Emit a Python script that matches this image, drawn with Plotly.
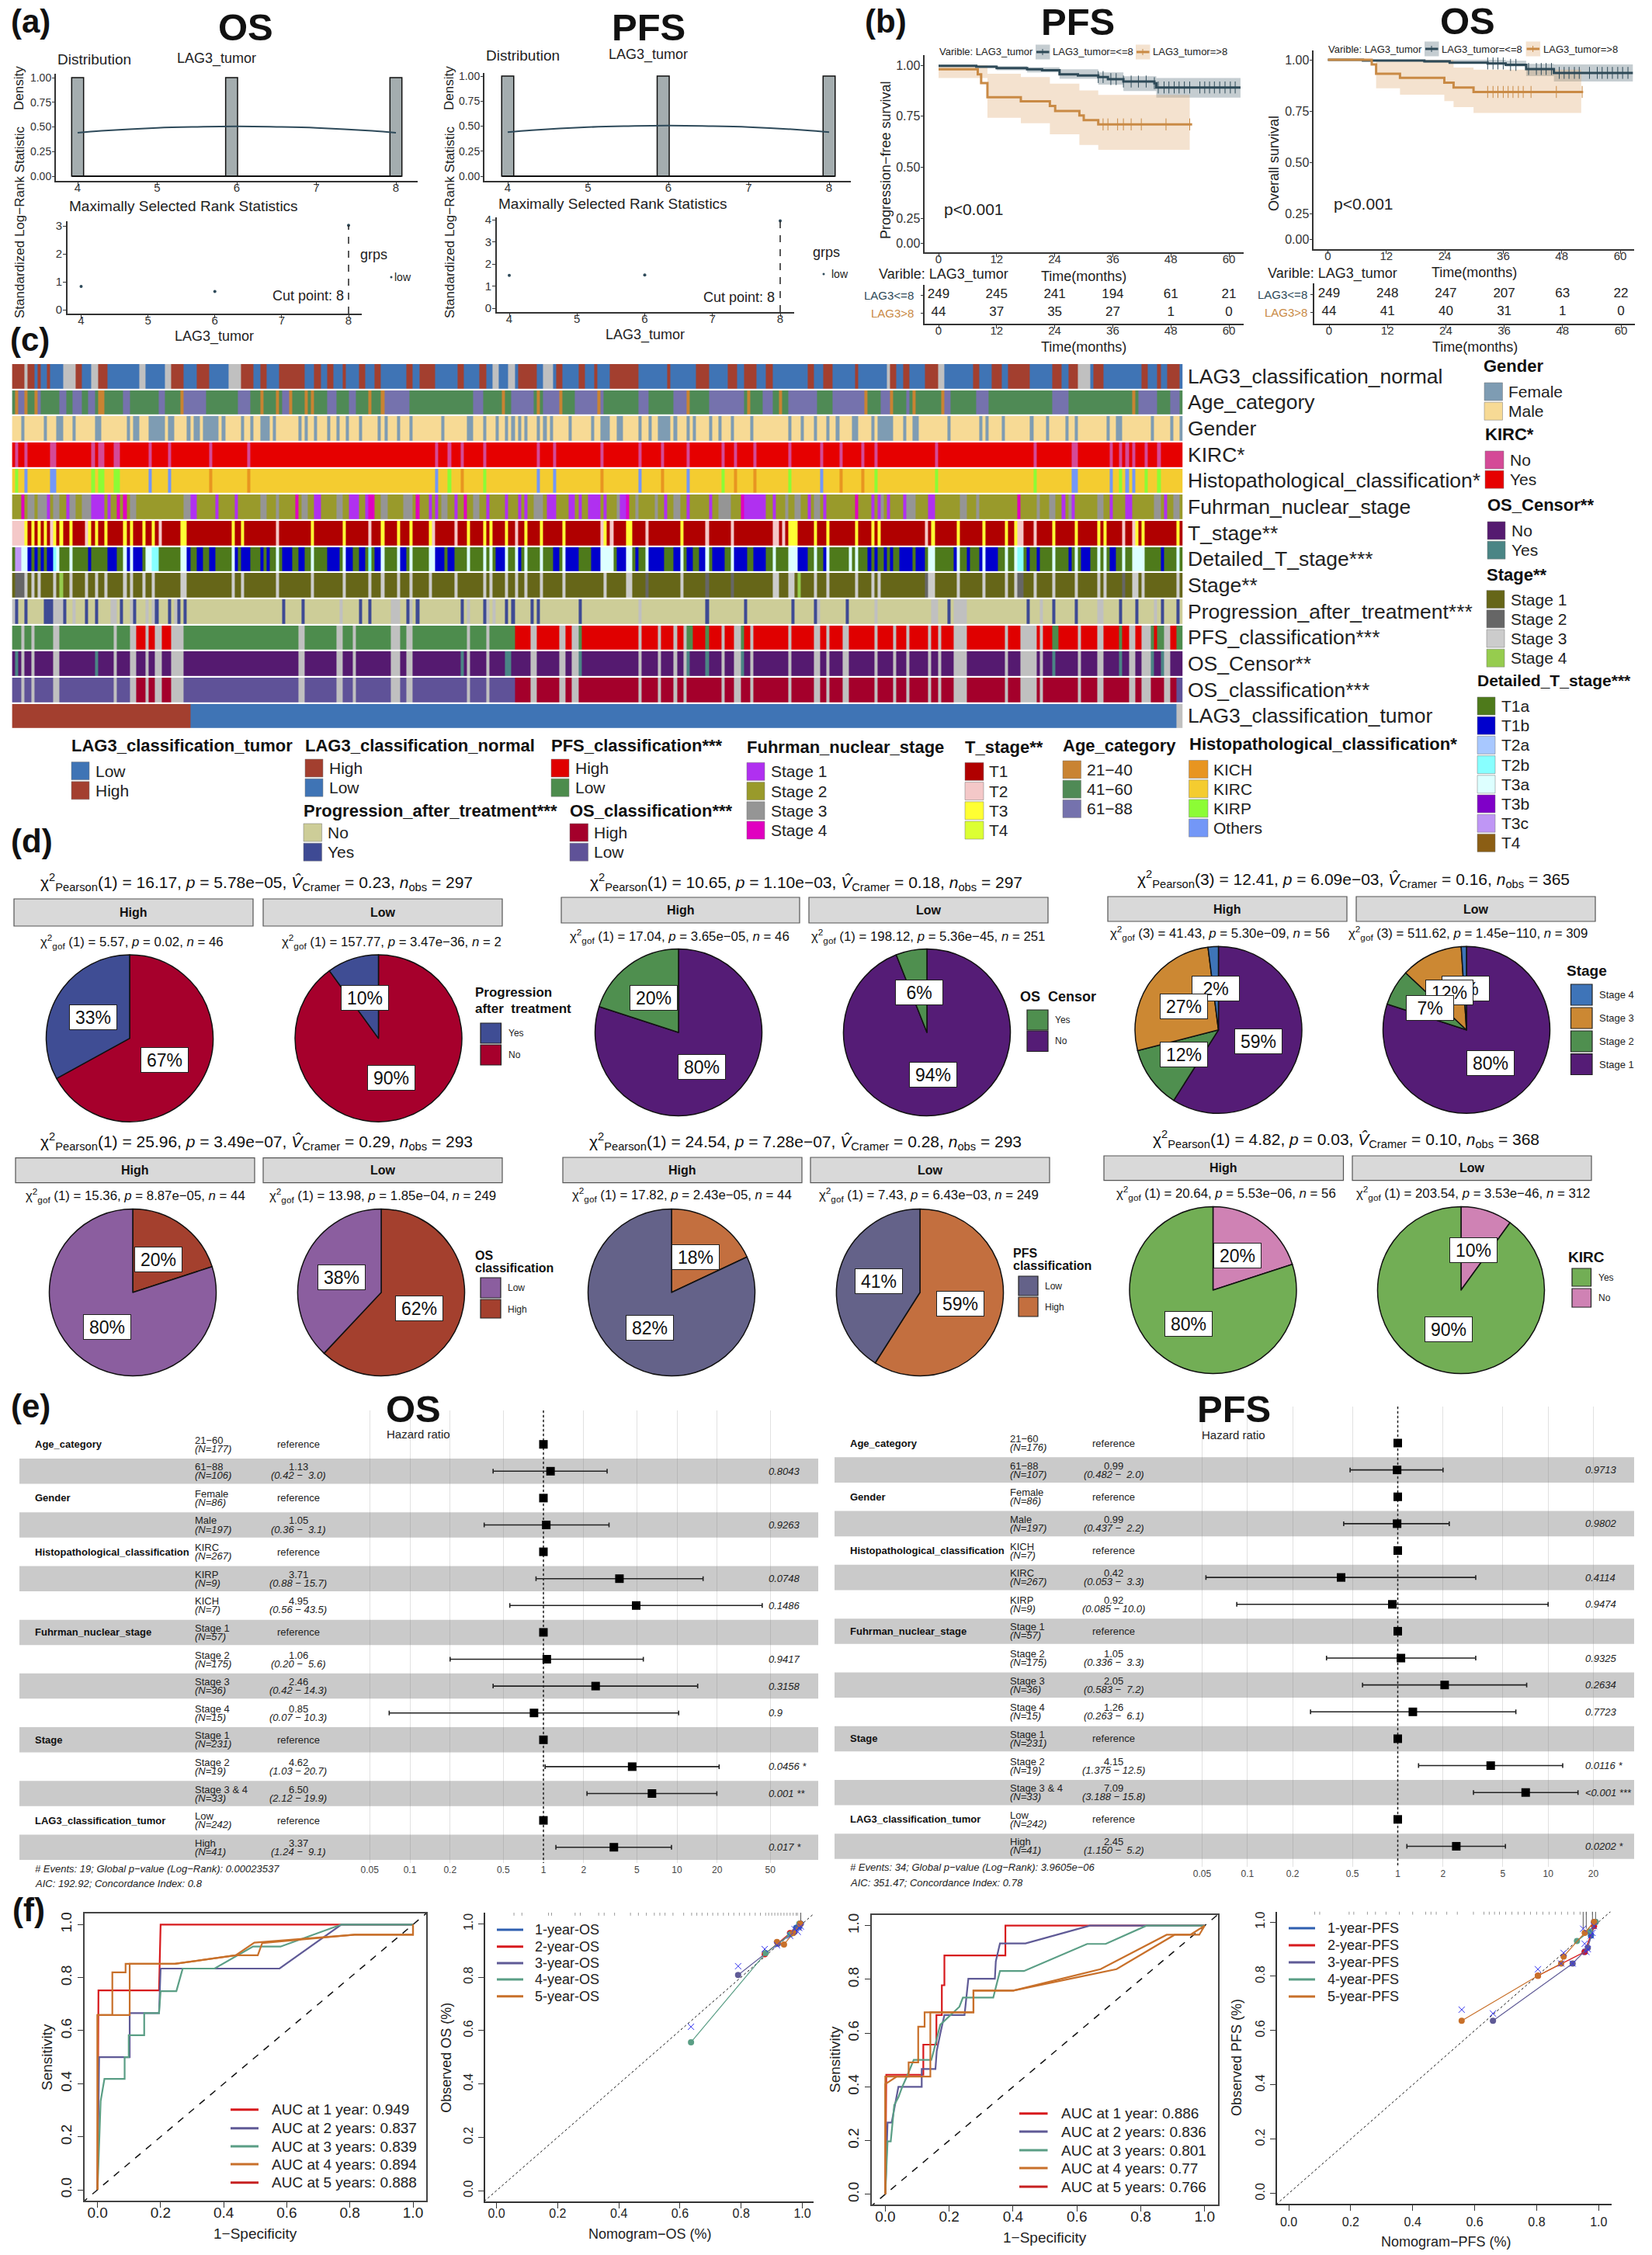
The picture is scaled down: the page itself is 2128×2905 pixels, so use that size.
import plotly.graph_objects as go

W, H = 2128, 2905
FONT = "Liberation Sans"
annots, shapes, traces, axes_layout = [], [], [], {}
_n = [0]

def T(x, y, s, size=15, color="#222", anchor="center", bold=False, angle=0, italic=False, **kw):
    if bold:
        s = f"<b>{s}</b>"
    if italic:
        s = f"<i>{s}</i>"
    if anchor == "left":
        x -= 2
    annots.append(dict(x=x / W, y=1 - y / H, xref="paper", yref="paper", text=s, showarrow=False,
                       xanchor=anchor, yanchor="middle", textangle=angle,
                       font=dict(size=size, color=color, family=FONT), **kw))

def R(x0, y0, x1, y1, fill, line="rgba(0,0,0,0)", lw=1):
    shapes.append(dict(type="rect", xref="paper", yref="paper", x0=x0 / W, x1=x1 / W, y0=1 - y0 / H, y1=1 - y1 / H,
                       fillcolor=fill, line=dict(color=line, width=lw), layer="below"))

def L(x0, y0, x1, y1, color, lw=2):
    shapes.append(dict(type="line", xref="paper", yref="paper", x0=x0 / W, x1=x1 / W, y0=1 - y0 / H, y1=1 - y1 / H,
                       line=dict(color=color, width=lw), layer="above"))

def AX(l, r, t, b, xr, yr, xo=None, yo=None):
    _n[0] += 1
    n = _n[0]
    base = dict(showgrid=False, zeroline=False, showline=True, linecolor="#333", linewidth=2, ticks="outside", automargin=False,
                ticklen=4, tickcolor="#333", tickwidth=1, tickfont=dict(size=15, color="#333", family=FONT))
    xa = dict(base, domain=[l / W, r / W], range=xr, anchor=f"y{n}", ticklabelstandoff=-10)
    ya = dict(base, domain=[1 - b / H, 1 - t / H], range=yr, anchor=f"x{n}", ticklabelstandoff=-2)
    xa.update(xo or {})
    ya.update(yo or {})
    axes_layout[f"xaxis{n}"] = xa
    axes_layout[f"yaxis{n}"] = ya
    return f"x{n}", f"y{n}"

def add(tr):
    traces.append(tr)

# ------------------------------------------------------------------ panel (a)
dist_x = [4, 5.935, 8]
dist_y = [1, 1, 1]
dens_os_x = [4, 4.3, 5, 5.5, 6, 6.5, 7, 7.7, 8]
dens_os_y = [0.44, 0.46, 0.49, 0.5, 0.505, 0.5, 0.49, 0.46, 0.44]
rank_x = [4, 6, 8]
rank_os = [0.83, 0.65, 3.02]
rank_pfs = [1.48, 1.5, 3.95]
TF14 = dict(size=14, color="#333", family=FONT)

def dist_panel(l, r, t, b, x4, x8, y1, y0, bar_x):
    u = (x8 - x4) / 4
    v = y0 - y1
    xa, ya = AX(l, r, t, b, [4 - (x4 - l) / u, 8 + (r - x8) / u], [-(b - y0) / v, 1 + (y1 - t) / v],
                dict(tickvals=[4, 5, 6, 7, 8]), dict(tickvals=[0, .25, .5, .75, 1], ticktext=["0.00", "0.25", "0.50", "0.75", "1.00"], tickfont=TF14, ticklen=3))
    add(go.Bar(x=bar_x, y=dist_y, width=0.15, marker=dict(color="#a4adaf", line=dict(color="#111", width=1.5)), xaxis=xa, yaxis=ya))
    add(go.Scatter(x=[3.93, 8.07], y=[0, 0], mode="lines", line=dict(color="#111", width=2), xaxis=xa, yaxis=ya))
    add(go.Scatter(x=dens_os_x, y=dens_os_y, mode="lines", line=dict(color="#2e4a5a", width=2, shape="spline"), xaxis=xa, yaxis=ya))

def rank_panel(l, r, t, b, x4, x8, y0, ytop, top, vals, tv):
    u = (x8 - x4) / 4
    v = (y0 - ytop) / top
    xa, ya = AX(l, r, t, b, [4 - (x4 - l) / u, 8 + (r - x8) / u], [-(b - y0) / v, top + (ytop - t) / v],
                dict(tickvals=[4, 5, 6, 7, 8]), dict(tickvals=tv))
    add(go.Scatter(x=rank_x, y=vals, mode="markers", marker=dict(size=4, color="#2e4a5a"), xaxis=xa, yaxis=ya))
    add(go.Scatter(x=[8, 8], y=[-(b - y0) / v, max(vals)], mode="lines", line=dict(color="#222", width=1.5, dash="dash"), xaxis=xa, yaxis=ya))

dist_panel(72, 538, 95, 233, 100, 510, 100, 227, dist_x)
dist_panel(624, 1096, 94, 233, 654, 1068, 98, 227, [4, 5.935, 8])
rank_panel(87, 466, 285, 404, 104.5, 449, 399, 291, 3, rank_os, [0, 1, 2, 3])
rank_panel(640, 1023, 280, 402, 656, 1005, 397, 283, 4, rank_pfs, [0, 1, 2, 3, 4])

T(39, 28, "(a)", 42, "#111", bold=True)
T(316, 35, "OS", 49, "#111", bold=True)
T(835, 35, "PFS", 49, "#111", bold=True)
for cx, dx, lx, mx, my, ax, ay, gx, gy, cy, cut, lox, loy, ptx, dy in [
    (121, 25, 279, 236, 266, 276, 434, 481, 328, 381, 445, 519, 357, 504, 76),
    (673, 579, 835, 790, 263, 831, 432, 1064, 325, 383, 1000, 1082, 353, 1061, 72)]:
    T(cx, dy, "Distribution", 19)
    T(lx, dy - 1, "LAG3_tumor", 18)
    T(mx, my, "Maximally Selected Rank Statistics", 19)
    T(ax, ay, "LAG3_tumor", 18)
    T(gx, gy, "grps", 18)
    T(lox, loy, "low", 14)
    T(cut, cy, "Cut point: 8", 18, anchor="right")
    T(dx, 114, "Density", 17, angle=-90)
    T(dx, 286, "Standardized Log−Rank Statistic", 17, angle=-90)
    shapes.append(dict(type="circle", xref="paper", yref="paper", x0=(ptx - 1.5) / W, x1=(ptx + 1.5) / W,
                       y0=1 - (loy + 1.5) / H, y1=1 - (loy - 1.5) / H, fillcolor="#2e4a5a", line=dict(width=0)))

# ------------------------------------------------------------------ panel (b)
DARK, ORNG = "#2e4a58", "#c98a45"
DARKF, ORNGF = "rgba(46,74,88,0.28)", "rgba(222,165,105,0.32)"

pfs_low_t = [0, 5.1, 7.8, 12, 18.3, 21.4, 25, 28.8, 33, 35, 38.2, 44.6, 45, 62.4]
pfs_low_s = [.9975, .9975, .992, .986, .98, .975, .955, .95, .942, .932, .92, .912, .891, .891]
pfs_low_rt = [0, 12, 18.3, 25, 33, 38.2, 45, 62.4]
pfs_low_lo = [.99, .975, .965, .933, .905, .874, .841, .841]
pfs_low_hi = [1, .995, .99, .98, .965, .946, .937, .937]
pfs_low_c = [33, 34, 35.6, 36.7, 38.2, 39.8, 41.3, 42.9, 44.6, 45.4, 46.6, 47.6, 48.7, 49.7, 50.8, 51.9, 54, 55, 56, 57, 58.1, 59.2, 60.3, 61.3]
pfs_hi_t = [0, 8.1, 8.8, 10.1, 17, 23, 24.1, 29.1, 30, 33, 52.4]
pfs_hi_s = [.98, .955, .913, .843, .823, .8, .776, .754, .731, .71, .71]
pfs_hi_rt = [0, 10.1, 17, 23, 29.1, 33, 51.9]
pfs_hi_lo = [.937, .742, .716, .662, .609, .586, .586]
pfs_hi_hi = [1, .958, .942, .91, .876, .855, .855]
pfs_hi_c = [34, 35, 37, 38.2, 39.8, 41.9, 47, 51.9]

os_low_t = [0, 7.2, 19.8, 25, 32.8, 36.5, 40.7, 46.4, 62.6]
os_low_s = [1, .996, .992, .986, .982, .975, .955, .936, .936]
os_low_rt = [0, 19.8, 36.5, 40.7, 46.4, 62.6]
os_low_lo = [.995, .985, .967, .92, .894, .894]
os_low_hi = [1, 1, .995, .98, .977, .977]
os_low_c = [32.8, 33.9, 34.9, 36, 37.5, 38.6, 41.2, 42.8, 43.8, 44.8, 45.9, 47.5, 48.5, 49.5, 50.6, 51.6, 53.7, 55.3, 56.3, 57.4, 58.4, 59.5, 60.5, 61.6]
os_hi_t = [0, 9, 9.9, 14.8, 23.9, 25.8, 29.9, 52.4]
os_hi_s = [1, .977, .932, .912, .888, .865, .843, .843]
os_hi_rt = [0, 9.9, 14.8, 23.9, 25.8, 29.9, 52]
os_hi_lo = [1, .861, .83, .798, .769, .741, .741]
os_hi_hi = [1, 1, 1, 1, .962, .952, .952]
os_hi_c = [32.8, 33.9, 34.9, 36, 37, 38, 39.1, 40.1, 41.7, 46.9, 52.2]

def s_at(ts, ss, t):
    v = ss[0]
    for a, b in zip(ts, ss):
        if a <= t:
            v = b
    return v

def km(l, r, t, b, x0, x60, y1, u, zero_pos, curves):
    pm = (x60 - x0) / 60
    xa, ya = AX(l, r, t, b, [-(x0 - l) / pm, 60 + (r - x60) / pm], [1 - (b - y1) / u, 1 + (y1 - t) / u],
                dict(tickvals=[0, 12, 24, 36, 48, 60]),
                dict(tickvals=[zero_pos, .25, .5, .75, 1], ticktext=["0.00", "0.25", "0.50", "0.75", "1.00"], ticklen=3, ticklabelstandoff=-3, tickfont=dict(size=16, color="#333", family=FONT)))
    for ct, cs, rt, lo, hi, cen, col, fc in curves:
        add(go.Scatter(x=rt, y=lo, mode="lines", line=dict(width=0, shape="hv"), xaxis=xa, yaxis=ya))
        add(go.Scatter(x=rt, y=hi, mode="lines", line=dict(width=0, shape="hv"), fill="tonexty", fillcolor=fc, xaxis=xa, yaxis=ya))
    for ct, cs, rt, lo, hi, cen, col, fc in curves:
        add(go.Scatter(x=ct, y=cs, mode="lines", line=dict(color=col, width=3, shape="hv"), xaxis=xa, yaxis=ya))
        add(go.Scatter(x=cen, y=[s_at(ct, cs, c) for c in cen], mode="markers",
                       marker=dict(symbol="line-ns", size=11, line=dict(color=col, width=1)), xaxis=xa, yaxis=ya))

km(1190.5, 1602, 71, 325, 1209, 1583, 84, 263, 0.129, [
    (pfs_low_t, pfs_low_s, pfs_low_rt, pfs_low_lo, pfs_low_hi, pfs_low_c, DARK, DARKF),
    (pfs_hi_t, pfs_hi_s, pfs_hi_rt, pfs_hi_lo, pfs_hi_hi, pfs_hi_c, ORNG, ORNGF)])
km(1691.5, 2104.6, 65, 321, 1710.5, 2087, 77, 264, 0.125, [
    (os_low_t, os_low_s, os_low_rt, os_low_lo, os_low_hi, os_low_c, DARK, DARKF),
    (os_hi_t, os_hi_s, os_hi_rt, os_hi_lo, os_hi_hi, os_hi_c, ORNG, ORNGF)])

risk_t = [0, 12, 24, 36, 48, 60]
risk_pfs_low = [249, 245, 241, 194, 61, 21]
risk_pfs_high = [44, 37, 35, 27, 1, 0]
risk_os_low = [249, 248, 247, 207, 63, 22]
risk_os_high = [44, 41, 40, 31, 1, 0]

def risk(l, r, t, b, x0, x60, y_low, y_high, low, high):
    pm = (x60 - x0) / 60
    v = y_high - y_low
    xa, ya = AX(l, r, t, b, [-(x0 - l) / pm, 60 + (r - x60) / pm], [(b - y_low) / v, (t - y_low) / v],
                dict(tickvals=risk_t), dict(tickvals=[0, 1], showticklabels=False, ticklen=3))
    add(go.Scatter(x=risk_t, y=[0] * 6, text=[str(i) for i in low], mode="text", textfont=dict(size=17, color="#222", family=FONT), xaxis=xa, yaxis=ya))
    add(go.Scatter(x=risk_t, y=[1] * 6, text=[str(i) for i in high], mode="text", textfont=dict(size=17, color="#222", family=FONT), xaxis=xa, yaxis=ya))

risk(1190.5, 1602, 367, 417, 1209, 1583, 380, 403, risk_pfs_low, risk_pfs_high)
risk(1693, 2106, 365, 417, 1712, 2088, 379, 402, risk_os_low, risk_os_high)

T(1141, 28, "(b)", 42, "#111", bold=True)
T(1388.5, 28, "PFS", 49, "#111", bold=True)
T(1890, 27, "OS", 49, "#111", bold=True)
T(1141, 206, "Progression−free survival", 18, angle=-90)
T(1641, 211, "Overall survival", 18, angle=-90)
T(1254, 269, "p&lt;0.001", 21)
T(1756, 263, "p&lt;0.001", 21)
for y, vx, tx, x1, tx2, x2 in [(67, 1270, 1407.5, 1334, 1533, 1463), (63, 1771.5, 1909, 1835, 2036, 1965.6)]:
    T(vx, y, "Varible: LAG3_tumor", 13)
    R(x1, y - 9.5, x1 + 18.5, y + 9.5, DARKF)
    L(x1 + 1, y, x1 + 17.5, y, DARK, 3)
    L(x1 + 9, y - 4, x1 + 9, y + 4, DARK, 1)
    T(tx, y, "LAG3_tumor=&lt;=8", 13)
    R(x2, y - 9.5, x2 + 18.5, y + 9.5, ORNGF)
    L(x2 + 1, y, x2 + 17.5, y, ORNG, 3)
    L(x2 + 9, y - 4, x2 + 9, y + 4, ORNG, 1)
    T(tx2, y, "LAG3_tumor=&gt;8", 13)
T(1215, 353, "Varible: LAG3_tumor", 18)
T(1396, 356, "Time(months)", 18)
T(1396, 447, "Time(months)", 18)
T(1179, 380, "LAG3&lt;=8", 15, "#2e4a58", anchor="right")
T(1179, 403, "LAG3&gt;8", 15, ORNG, anchor="right")
T(1716, 352, "Varible: LAG3_tumor", 18)
T(1899, 351, "Time(months)", 18)
T(1900, 447, "Time(months)", 18)
T(1686, 379, "LAG3&lt;=8", 15, "#2e4a58", anchor="right")
T(1686, 402, "LAG3&gt;8", 15, ORNG, anchor="right")

# ------------------------------------------------------------------ panel (c)
N_SAMPLES = 368
row_labels = ["LAG3_classification_normal", "Age_category", "Gender", "KIRC*", "Histopathological_classification*",
              "Fuhrman_nuclear_stage", "T_stage**", "Detailed_T_stage***", "Stage**", "Progression_after_treatment***",
              "PFS_classification***", "OS_Censor**", "OS_classification***", "LAG3_classification_tumor"]
palette = {"NA": "#c0c0c0", "brown": "#a33f2f", "blue": "#3f74b5",
           "a1": "#c98332", "a2": "#4f8a55", "a3": "#7572ad",
           "female": "#7e9cb3", "male": "#f7da95",
           "kn": "#d44a97", "ky": "#e60000",
           "h1": "#e89520", "h2": "#f4cc30", "h3": "#8cfc35", "h4": "#7397f7",
           "f1": "#b030f0", "f2": "#999a2b", "f3": "#959595", "f4": "#e000c0",
           "t1": "#b00000", "t2": "#f4c8c8", "t3": "#ffff33", "t4": "#dcff33",
           "d1": "#4e7a1b", "d2": "#0000cd", "d3": "#a8c8ff", "d4": "#88ffff", "d5": "#ddffff", "d6": "#7f00c8", "d7": "#bf96f5", "d8": "#8b5e14",
           "s1": "#666618", "s2": "#666666", "s3": "#cccccc", "s4": "#96cc4e",
           "pn": "#cdcd98", "py": "#3e4a94",
           "ph": "#e00000", "pl": "#4d8c4d",
           "cn": "#551a70", "cy": "#4a8585",
           "oh": "#a4002b", "ol": "#5f5298"}
codes = {k: i for i, k in enumerate(palette)}

missing = [3, 6, [13, 15], 32, [37, 39], 42, [45, 47], [50, 51], [51, 54], [90, 92], [102, 104], 107, [119, 122], [124, 126], 143, [149, 150],
           [163, 165], [172, 174], [176, 178], 197, [203, 204], 208, 211, 223, [227, 229], 232, [244, 245], [252, 254], [256, 257], [261, 263],
           [271, 272], 277, 281, 288, 291, [296, 300], 312, [317, 322], 323, 335, [341, 343], [351, 353], [355, 358], [362, 364]]
early_high = [[39, 42], [43, 45], [47, 50], 51, [158, 368]]

row_base = ["blue", "a2", "male", "ky", "h2", "f2", "t1", "d1", "s1", "pn", "pl", "cn", "ol", "blue"]
row_runs = [
    [("brown", [[0, 4], [5, 7], [8, 9], [11, 12], [20, 22], [27, 30], [50, 54], [58, 62], [72, 76], [78, 80], [84, 92], [95, 97], [99, 101], [104, 105], [109, 111], [114, 116], [124, 126], [128, 133], [140, 142], [147, 149], [159, 165], [171, 173], [178, 180], [183, 184], [188, 197], [206, 207], [215, 219], [225, 228], [230, 234], [237, 239], [250, 252], [255, 258], [265, 266], [276, 278], [280, 282], [287, 291], [302, 304], [308, 311], [313, 320], [327, 330], [332, 335], [340, 343], [355, 357], [360, 361], [363, 367]]),
     ("NA", [[4, 5], [16, 20], [25, 27], [40, 42], [48, 50], [68, 72], [151, 153], [156, 158], [167, 170], [275, 276], [291, 293], [335, 339]])],
    [("a3", [[1, 4], [7, 9], [15, 17], [19, 22], [24, 26], [35, 37], [46, 48], [54, 61], [71, 75], [85, 87], [99, 102], [106, 108], [117, 125], [145, 148], [157, 164], [167, 172], [177, 186], [197, 200], [208, 212], [219, 230], [236, 239], [244, 253], [258, 265], [265, 268], [273, 276], [281, 282], [292, 295], [303, 307], [327, 332], [354, 360], [364, 367]]),
     ("a1", [1, 4, 7, [27, 29], 53, 78, [83, 84], 87, 92, 94, 112, 116, 154, 165, 172, 184, 212, 231, 241, 268, 276, 283, 292, 352])],
    [("female", [3, 10, [14, 16], 19, [26, 28], 36, [38, 40], [43, 48], [49, 51], 55, [57, 59], [60, 65], 66, 72, 75, [78, 81], 82, 90, 92, 95, 99, 102, 105, 109, 115, 117, 121, 125, [135, 136], 143, 144, [148, 149], 152, 155, 157, 159, 161, 165, 167, 169, 175, 182, [185, 188], [190, 192], [197, 198], 200, [203, 207], 208, 212, 214, 219, 222, 226, 232, 244, 248, 252, 256, 259, 264, [265, 266], 270, [272, 277], [280, 281], [283, 285], 294, 304, 306, 311, 320, 325, 331, 334, 344, [347, 349], 358, 364, 367])],
    [("kn", [[1, 2], [4, 5], [12, 14], [25, 26], [27, 29], [32, 34], 43, 49, 62, 74, 133, 137, 141, 148, 165, 170, 185, 197, 204, 212, 223, 227, 233, 244, 254, 260, 267, 271, 290, 321, [333, 335], 345, 348, 350, 352, 356, 360])],
    [("h3", [[1, 2], [25, 26], [27, 29], [32, 34], 137, 148, 223, 244, 271, 290, 321, 348, 356, 360]),
     ("h4", [[4, 5], [12, 14], 43, 49, 133, 165, 170, 197, 212, 254, [333, 335], 345, 350, 352]),
     ("h1", [62, 74, 141, 185, 204, 227, 233, 260, 267])],
    [("f3", [[5, 7], [8, 11], [13, 15], [18, 20], [22, 25], [37, 39], [54, 56], [78, 80], [83, 84], [91, 93], [102, 104], [116, 118], [123, 126], [135, 137], [145, 147], [164, 167], [190, 191], [196, 197], [202, 203], [208, 210], [222, 226], [243, 244], [246, 248], [252, 254], [272, 274], [281, 284], [298, 300], 303, 322, [326, 328], [332, 333], [341, 343], [359, 361], [365, 367]]),
     ("f1", [11, 17, [25, 29], 30, [56, 58], 64, 70, [95, 97], [106, 108], 108, 111, 131, 133, [139, 140], 149, 155, 159, 161, [168, 171], [175, 177], 178, 181, [182, 185], 186, [191, 193], 205, 212, 219, [230, 237], 239, [250, 251], [255, 256], 270, 272, 275, 280, [288, 290], 330, 333, 345, [350, 352], 362]),
     ("f4", [3, 33, 35, 89, [112, 114], 127, 142, 193, 229, 265, 316])],
    [("t2", [[0, 4], 12, 23, 46, 83, [112, 113], 132, 139, 158, 185, 188, 199, 218, 226, [239, 241], [242, 243], [287, 288], [316, 318], 321, 349, 352]),
     ("t3", [[4, 5], 6, 8, 10, 13, [15, 16], [18, 19], 24, 26, 29, 35, 37, [41, 42], [44, 45], [53, 55], 69, 72, 94, 104, 116, [121, 122], 125, [131, 132], 143, 148, 150, 155, 161, 166, 173, [186, 187], [193, 195], 210, [244, 247], 252, 256, 265, [270, 271], 272, 289, 297, 305, 312, 315, 327, 334, 341, 343, 353, 355, 366])],
    [("d2", [5, 7, [9, 10], [11, 13], [24, 25], [30, 33], [36, 37], [38, 41], [55, 56], [58, 60], [62, 64], [70, 71], [72, 75], 78, [80, 81], [85, 88], [90, 92], [99, 103], [104, 107], [109, 111], [114, 116], [122, 124], [133, 136], [137, 139], [148, 149], [152, 155], [159, 160], [170, 172], [174, 178], [182, 185], [190, 193], [196, 197], [200, 205], [208, 210], [212, 214], [216, 218], [220, 224], [227, 231], [233, 237], [246, 250], [255, 257], 269, [271, 272], 274, [276, 277], [279, 283], [284, 287], 296, [300, 301], 304, [306, 310], [319, 320], [322, 323], 332, [336, 339], [345, 347], [361, 362]]),
     ("d5", [[1, 5], [13, 15], 18, 35, 37, [42, 46], [53, 55], 69, 83, 94, 104, [112, 113], 116, 121, 125, [131, 133], 143, 148, 150, 155, 158, 161, 166, 173, [185, 189], [193, 195], 199, 210, 218, 226, 239, [244, 247], 252, 256, 263, 265, 288, 289, 297, 305, 312, 315, [316, 318], 327, 334, 341, 343, 349, 352, [353, 356], 366]),
     ("d4", [13, [44, 46], [112, 113], [316, 318]]),
     ("d7", [[1, 3]])],
    [("s3", [4, 6, 8, 13, 18, 23, 26, 29, 35, 37, [41, 42], [44, 45], [53, 55], 69, 72, 83, 94, 104, [112, 113], 116, [121, 122], 125, [131, 132], 139, 148, 150, 155, 158, 161, 166, 173, [186, 187], [193, 195], 210, [239, 241], [244, 246], 252, 256, 265, [270, 271], 272, [288, 290], 297, 305, 312, 315, 321, 327, 334, 341, 343, 352, 353, 355, 366]),
     ("s2", [[1, 4], 199, 218, 226, 287, [316, 318], 349]),
     ("s4", [[15, 16], 247])],
    [("NA", [0, [13, 16], 19, [31, 33], 37, 42, 44, 51, [103, 104], [119, 122], 125, 143, 149, 151, 155, 197, [252, 254], [271, 272], [289, 291], [296, 300], 323, [341, 343], [359, 360]]),
     ("py", [1, 4, [10, 13], 16, 23, 26, 34, 38, 45, 49, 52, [54, 55], 85, 91, 109, 112, 124, 127, 141, 148, 155, 157, [163, 164], 165, 178, 218, 230, 245, 252, [262, 263], 294, 319, 327, 334, 348, 353, 361, 366])],
    [("ph", early_high), ("pl", [178, [212, 214], 218, 229, [327, 329], [348, 349], 358, [360, 362], [366, 368]]), ("NA", missing)],
    [("cy", [[1, 2], 26, 37, [90, 92], 141, [155, 157], 178, 212, 218, 229, 252, [318, 319], 327, [348, 349], 358, 361]), ("NA", missing)],
    [("oh", early_high), ("ol", [[366, 368]]), ("NA", missing)],
    [("brown", [[0, 56]]), ("NA", [[366, 368]])],
]

z = []
for base, runs in zip(row_base, row_runs):
    row = [codes[base] + 0.5] * N_SAMPLES
    for name, items in runs:
        for it in items:
            a, b = (it[0], it[1]) if isinstance(it, list) else (it, it + 1)
            for i in range(a, min(b, N_SAMPLES)):
                row[i] = codes[name] + 0.5
    z.append(row)

nc = len(palette)
cs = []
for i, c in enumerate(palette.values()):
    cs += [[i / nc, c], [(i + 1) / nc, c]]
xa, ya = AX(15.4, 1523.6, 468, 939.4, [-0.5, N_SAMPLES - 0.5], [13.5, -0.5],
            dict(visible=False), dict(visible=False))
add(go.Heatmap(z=z, colorscale=cs, zmin=0, zmax=nc, showscale=False, ygap=2.2, hoverinfo="skip", xaxis=xa, yaxis=ya))
for i, lab in enumerate(row_labels):
    T(1530, 484.7 + 33.67 * i, lab, 26.5, "#222", anchor="left")
T(38.6, 437, "(c)", 42, "#111", bold=True)

def legend(title, tx, ty, sx0, sx1, first, h, pitch, lx, items, tsize=22, lsize=21):
    T(tx, ty, title, tsize, "#111", anchor="left", bold=True)
    for i, (lab, col) in enumerate(items):
        y = first + pitch * i
        R(sx0, y, sx1, y + h, col, "#777", 0.5)
        T(lx, y + h / 2, lab, lsize, "#222", anchor="left")

p = palette
legend("Gender", 1911, 472, 1912, 1935.5, 493, 23, 25.2, 1943, [("Female", p["female"]), ("Male", p["male"])])
legend("KIRC*", 1913, 560, 1913, 1937, 581, 23, 25.2, 1945, [("No", p["kn"]), ("Yes", p["ky"])])
legend("OS_Censor**", 1916, 650, 1916, 1939, 672, 23, 25.2, 1946.6, [("No", p["cn"]), ("Yes", p["cy"])])
legend("Stage**", 1915, 740, 1915, 1938, 760.6, 23, 25.2, 1946, [("Stage 1", p["s1"]), ("Stage 2", p["s2"]), ("Stage 3", p["s3"]), ("Stage 4", p["s4"])])
legend("Detailed_T_stage***", 1903, 877, 1903, 1926, 898, 23, 25.2, 1934,
       [("T1a", p["d1"]), ("T1b", p["d2"]), ("T2a", p["d3"]), ("T2b", p["d4"]), ("T3a", p["d5"]), ("T3b", p["d6"]), ("T3c", p["d7"]), ("T4", p["d8"])], tsize=21)
legend("LAG3_classification_tumor", 92, 960.5, 92, 115, 981.6, 23, 25.2, 123, [("Low", p["blue"]), ("High", p["brown"])])
legend("LAG3_classification_normal", 393, 961, 393, 416, 978, 23, 25.2, 424, [("High", p["brown"]), ("Low", p["blue"])])
legend("PFS_classification***", 710, 961, 710, 733, 978, 23, 25.2, 741, [("High", p["ph"]), ("Low", p["pl"])])
legend("Fuhrman_nuclear_stage", 962, 962, 962, 985, 982.4, 23, 25.2, 993, [("Stage 1", p["f1"]), ("Stage 2", p["f2"]), ("Stage 3", p["f3"]), ("Stage 4", p["f4"])])
legend("Progression_after_treatment***", 391, 1044, 391, 414.6, 1061, 23, 25.2, 421.6, [("No", p["pn"]), ("Yes", p["py"])])
legend("OS_classification***", 734, 1044, 734, 757.6, 1061, 23, 25.2, 765, [("High", p["oh"]), ("Low", p["ol"])])
legend("T_stage**", 1243, 962, 1243, 1267, 982.4, 23, 25.2, 1274, [("T1", p["t1"]), ("T2", p["t2"]), ("T3", p["t3"]), ("T4", p["t4"])])
legend("Age_category", 1369, 960, 1369, 1392.5, 980, 23, 25.2, 1400, [("21−40", p["a1"]), ("41−60", p["a2"]), ("61−88", p["a3"])])
legend("Histopathological_classification*", 1531.5, 959, 1531.5, 1556, 979.5, 23, 25.2, 1563, [("KICH", p["h1"]), ("KIRC", p["h2"]), ("KIRP", p["h3"]), ("Others", p["h4"])])

# ------------------------------------------------------------------ panel (d)
T(41, 1083, "(d)", 42, "#111", bold=True)
C_YES, C_NO = "#3f4d94", "#a6002c"
C_G, C_P = "#4f8f4f", "#551c76"
C_LOW, C_HIGH = "#8b5e9f", "#a4402e"
C_LOW2, C_HIGH2 = "#646289", "#c36f3f"
C_S3, C_S4 = "#cc8833", "#3e74b8"
C_KY, C_KN = "#72ae55", "#cf82b4"

def pie(cx, cy, labels, vals, cols, boxes):
    r = 107.5
    add(go.Pie(labels=labels, values=vals, sort=False, direction="clockwise", rotation=0, textinfo="none", hoverinfo="skip",
               marker=dict(colors=cols, line=dict(color="#111", width=1.5)),
               domain=dict(x=[(cx - r) / W, (cx + r) / W], y=[1 - (cy + r) / H, 1 - (cy - r) / H])))
    for x, y, s in boxes:
        T(x, y, s, 23, "#111", bgcolor="white", bordercolor="#222", borderwidth=1, borderpad=2, width=56, height=27)

pie(167, 1337.6, ["No", "Yes"], [67, 33], [C_NO, C_YES], [(120, 1310, "33%"), (212, 1366, "67%")])
pie(487.5, 1337.6, ["No", "Yes"], [90, 10], [C_NO, C_YES], [(470, 1286, "10%"), (504, 1388, "90%")])
pie(874, 1330, ["No", "Yes"], [80, 20], [C_P, C_G], [(842, 1286, "20%"), (904, 1374, "80%")])
pie(1194, 1330, ["No", "Yes"], [94, 6], [C_P, C_G], [(1184, 1278, "6%"), (1202, 1384, "94%")])
pie(171, 1665, ["High", "Low"], [20, 80], [C_HIGH, C_LOW], [(204, 1622.5, "20%"), (138, 1709, "80%")])
pie(491, 1665, ["High", "Low"], [62, 38], [C_HIGH, C_LOW], [(440, 1645.5, "38%"), (540, 1685.4, "62%")])
pie(865, 1665, ["High", "Low"], [18, 82], [C_HIGH2, C_LOW2], [(896, 1619, "18%"), (837, 1710, "82%")])
pie(1185, 1665, ["High", "Low"], [59, 41], [C_HIGH2, C_LOW2], [(1132, 1650, "41%"), (1237, 1679, "59%")])
pie(1569.5, 1326.8, ["Stage 1", "Stage 2", "Stage 3", "Stage 4"], [59, 12, 27, 2], [C_P, C_G, C_S3, C_S4],
    [(1566, 1273.5, "2%"), (1525, 1296, "27%"), (1525, 1358, "12%"), (1621, 1341.5, "59%")])
pie(1889, 1326.8, ["Stage 1", "Stage 2", "Stage 3", "Stage 4"], [80, 7, 12, 1], [C_P, C_G, C_S3, C_S4],
    [(1887.5, 1273.5, "1%"), (1866.6, 1278, "12%"), (1842.4, 1298.6, "7%"), (1920, 1370, "80%")])
pie(1562.5, 1662, ["No", "Yes"], [20, 80], [C_KN, C_KY], [(1593.6, 1617.8, "20%"), (1531.4, 1705.4, "80%")])
pie(1882, 1662, ["No", "Yes"], [10, 90], [C_KN, C_KY], [(1898, 1610.4, "10%"), (1865.6, 1712.7, "90%")])

def pearson(df, chi, pv, v, n):
    return (f"χ<sup>2</sup><sub>Pearson</sub>({df}) = {chi}, <i>p</i> = {pv}, <i>V\u0302</i><sub>Cramer</sub> = {v}, "
            f"<i>n</i><sub>obs</sub> = {n}")

def gof(df, chi, pv, n):
    return f"χ<sup>2</sup><sub>gof</sub> ({df}) = {chi}, <i>p</i> = {pv}, <i>n</i> = {n}"

def facet(title, cx, ty, s1, s2, st, sb, g1, g2, gy):
    T(cx, ty, title, 21, "#111")
    for (a, b), lab in [(s1, "High"), (s2, "Low")]:
        R(a, st, b, sb, "#d9d9d9", "#555", 1.2)
        T((a + b) / 2, (st + sb) / 2, lab, 16, "#111", bold=True)
    T(g1[0], gy, g1[1], 16.8, "#111")
    T(g2[0], gy, g2[1], 16.8, "#111")

facet(pearson(1, "16.17", "5.78e−05", "0.23", 297), 330, 1137, (18, 326), (339, 647), 1158, 1193,
      (170, gof(1, "5.57", "0.02", 46)), (504, gof(1, "157.77", "3.47e−36", 2)), 1213)
facet(pearson(1, "10.65", "1.10e−03", "0.18", 297), 1038, 1137, (723, 1030), (1042, 1350), 1156, 1189,
      (875, gof(1, "17.04", "3.65e−05", 46)), (1195, gof(1, "198.12", "5.36e−45", 251)), 1206)
facet(pearson(3, "12.41", "6.09e−03", "0.16", 365), 1743.5, 1133, (1427, 1735), (1747, 2055), 1155, 1187,
      (1571, gof(3, "41.43", "5.30e−09", 56)), (1891, gof(3, "511.62", "1.45e−110", 309)), 1202)
facet(pearson(1, "25.96", "3.49e−07", "0.29", 293), 330, 1471, (20, 328), (339, 647), 1491.6, 1523.7,
      (174, gof(1, "15.36", "8.87e−05", 44)), (493, gof(1, "13.98", "1.85e−04", 249)), 1540)
facet(pearson(1, "24.54", "7.28e−07", "0.28", 293), 1037, 1471, (725, 1033), (1044, 1352), 1491, 1523.7,
      (878, gof(1, "17.82", "2.43e−05", 44)), (1196, gof(1, "7.43", "6.43e−03", 249)), 1539)
facet(pearson(1, "4.82", "0.03", "0.10", 368), 1734, 1467.7, (1422, 1730.5), (1742, 2050), 1489, 1520.6,
      (1579, gof(1, "20.64", "5.53e−06", 56)), (1897.7, gof(1, "203.54", "3.53e−46", 312)), 1536.7)

def pie_legend(titles, tx, tys, sx0, sx1, items, tsize=17, lsize=12):
    for t, y in zip(titles, tys):
        T(tx, y, t, tsize, "#111", anchor="left", bold=True)
    for lab, col, y0, y1, ly in items:
        R(sx0, y0, sx1, y1, col, "#222", 1.2)
        T(sx1 + 9, ly, lab, lsize, "#222", anchor="left")

pie_legend(["Progression", "after  treatment"], 612, [1278, 1299], 619, 645.5, [("Yes", C_YES, 1318, 1344, 1331), ("No", C_NO, 1346, 1372, 1359)])
pie_legend(["OS  Censor"], 1314, [1284], 1323, 1350, [("Yes", C_G, 1301, 1327, 1314), ("No", C_P, 1328, 1354.5, 1341)], tsize=18)
pie_legend(["OS", "classification"], 612, [1617, 1633], 619, 645, [("Low", C_LOW, 1646, 1672, 1659), ("High", C_HIGH, 1674, 1698, 1687)], tsize=16)
pie_legend(["PFS", "classification"], 1305, [1614, 1630], 1312, 1337, [("Low", C_LOW2, 1644, 1669, 1657), ("High", C_HIGH2, 1671, 1696, 1684)], tsize=16)
pie_legend(["Stage"], 2018, [1250], 2023.5, 2051, [("Stage 4", C_S4, 1268, 1295, 1281), ("Stage 3", C_S3, 1298, 1325, 1311),
                                                   ("Stage 2", C_G, 1328, 1355, 1341), ("Stage 1", C_P, 1357.6, 1384.5, 1371)], tsize=19, lsize=13)
pie_legend(["KIRC"], 2020, [1619], 2025, 2049.5, [("Yes", C_KY, 1634, 1657, 1645.5), ("No", C_KN, 1660, 1684, 1671.5)], tsize=19, lsize=12)

# ------------------------------------------------------------------ panel (e)
f_vars = ["Age_category", "", "Gender", "", "Histopathological_classification", "", "", "Fuhrman_nuclear_stage", "", "", "", "Stage", "", "", "LAG3_classification_tumor", ""]
os_levels = ["21−60", "61−88", "Female", "Male", "KIRC", "KIRP", "KICH", "Stage 1", "Stage 2", "Stage 3", "Stage 4", "Stage 1", "Stage 2", "Stage 3 & 4", "Low", "High"]
os_n = [177, 106, 86, 197, 267, 9, 7, 57, 175, 36, 15, 231, 19, 33, 242, 41]
os_hr = [1, 1.13, 1, 1.05, 1, 3.71, 4.95, 1, 1.06, 2.46, 0.85, 1, 4.62, 6.50, 1, 3.37]
os_lo = [None, 0.42, None, 0.36, None, 0.88, 0.56, None, 0.20, 0.42, 0.07, None, 1.03, 2.12, None, 1.24]
os_hi = [None, 3.0, None, 3.1, None, 15.7, 43.5, None, 5.6, 14.3, 10.3, None, 20.7, 19.9, None, 9.1]
os_hrt = ["", "1.13", "", "1.05", "", "3.71", "4.95", "", "1.06", "2.46", "0.85", "", "4.62", "6.50", "", "3.37"]
os_cit = ["", "(0.42 −  3.0)", "", "(0.36 −  3.1)", "", "(0.88 − 15.7)", "(0.56 − 43.5)", "", "(0.20 −  5.6)", "(0.42 − 14.3)", "(0.07 − 10.3)", "", "(1.03 − 20.7)", "(2.12 − 19.9)", "", "(1.24 −  9.1)"]
os_p = ["", "0.8043", "", "0.9263", "", "0.0748", "0.1486", "", "0.9417", "0.3158", "0.9", "", "0.0456 *", "0.001 **", "", "0.017 *"]

pfs_levels = ["21−60", "61−88", "Female", "Male", "KICH", "KIRC", "KIRP", "Stage 1", "Stage 2", "Stage 3", "Stage 4", "Stage 1", "Stage 2", "Stage 3 & 4", "Low", "High"]
pfs_n = [176, 107, 86, 197, 7, 267, 9, 57, 175, 36, 15, 231, 19, 33, 242, 41]
pfs_hr = [1, 0.99, 1, 0.99, 1, 0.42, 0.92, 1, 1.05, 2.05, 1.26, 1, 4.15, 7.09, 1, 2.45]
pfs_lo = [None, 0.482, None, 0.437, None, 0.053, 0.085, None, 0.336, 0.583, 0.263, None, 1.375, 3.188, None, 1.150]
pfs_hi = [None, 2.0, None, 2.2, None, 3.3, 10.0, None, 3.3, 7.2, 6.1, None, 12.5, 15.8, None, 5.2]
pfs_hrt = ["", "0.99", "", "0.99", "", "0.42", "0.92", "", "1.05", "2.05", "1.26", "", "4.15", "7.09", "", "2.45"]
pfs_cit = ["", "(0.482 −  2.0)", "", "(0.437 −  2.2)", "", "(0.053 −  3.3)", "(0.085 − 10.0)", "", "(0.336 −  3.3)", "(0.583 −  7.2)", "(0.263 −  6.1)", "", "(1.375 − 12.5)", "(3.188 − 15.8)", "", "(1.150 −  5.2)"]
pfs_p = ["", "0.9713", "", "0.9802", "", "0.4114", "0.9474", "", "0.9325", "0.2634", "0.7723", "", "0.0116 *", "&lt;0.001 ***", "", "0.0202 *"]

def forest(bl, br, x1, dec, top, y0, pitch, bottom, tickv, levels, ns, hr, lo, hi, hrt, cit, pv, vx, lx, hx, px_, foot, fy1, fy2):
    for i in range(1, 16, 2):
        R(bl, y0 + pitch * (i - .47), br, y0 + pitch * (i + .47), "#cacaca")
    xa, ya = AX(bl, br, top, bottom, [(bl - x1) / dec, (br - x1) / dec], [(bottom - y0) / pitch, (top - y0) / pitch],
                dict(type="log", showline=False, ticks="", showgrid=True, gridcolor="rgba(120,120,120,0.22)", ticklabelstandoff=0,
                     tickvals=tickv, ticktext=[str(v) for v in tickv], tickfont=dict(size=12, color="#444", family=FONT)),
                dict(visible=False))
    ys = list(range(16))
    add(go.Scatter(x=[1, 1], y=[(top - y0) / pitch, (bottom - y0) / pitch], mode="lines",
                   line=dict(color="#222", width=1.5, dash="dot"), xaxis=xa, yaxis=ya))
    add(go.Scatter(x=hr, y=ys, mode="markers", marker=dict(symbol="square", size=11, color="#000"),
                   error_x=dict(type="data", symmetric=False,
                                array=[(h - m) if h else 0 for h, m in zip(hi, hr)],
                                arrayminus=[(m - l) if l else 0 for l, m in zip(lo, hr)],
                                thickness=1.6, width=3, color="#222"),
                   xaxis=xa, yaxis=ya))
    for i in range(16):
        y = y0 + pitch * i
        if f_vars[i]:
            T(vx, y, f_vars[i], 13, "#111", anchor="left", bold=True)
        T(lx, y - 5.5, levels[i], 13, "#222", anchor="left")
        T(lx, y + 5.5, f"(N={ns[i]})", 13, "#222", anchor="left", italic=True)
        if hrt[i]:
            T(hx, y - 5.5, hrt[i], 13, "#222")
            T(hx, y + 5.5, cit[i], 13, "#222", italic=True)
        else:
            T(hx, y, "reference", 13, "#222")
        if pv[i]:
            T(px_, y, pv[i], 13, "#222", anchor="left", italic=True)
    T(vx, fy1, foot[0], 13, "#222", anchor="left", italic=True)
    T(vx, fy2, foot[1], 13, "#222", anchor="left", italic=True)

forest(25, 1054, 700, 172, 1817, 1860.7, 34.6, 2400, [0.05, 0.1, 0.2, 0.5, 1, 2, 5, 10, 20, 50],
       os_levels, os_n, os_hr, os_lo, os_hi, os_hrt, os_cit, os_p, 45, 251, 384, 990,
       ["# Events: 19; Global p−value (Log−Rank): 0.00023537", "AIC: 192.92; Concordance Index: 0.8"], 2407.5, 2426)
forest(1075, 2105, 1800.5, 193.7, 1812, 1859, 34.63, 2405, [0.05, 0.1, 0.2, 0.5, 1, 2, 5, 10, 20],
       pfs_levels, pfs_n, pfs_hr, pfs_lo, pfs_hi, pfs_hrt, pfs_cit, pfs_p, 1095.4, 1301, 1434.7, 2042,
       ["# Events: 34; Global p−value (Log−Rank): 3.9605e−06", "AIC: 351.47; Concordance Index: 0.78"], 2405.8, 2425)
T(39, 1812, "(e)", 42, "#111", bold=True)
T(532, 1815, "OS", 49, "#111", bold=True)
T(1589, 1815, "PFS", 49, "#111", bold=True)
T(539, 1847, "Hazard ratio", 15, "#222")
T(1589, 1848, "Hazard ratio", 15, "#222")

# ------------------------------------------------------------------ panel (f)
C1, C2, C3, C4, C5 = "#d7191c", "#5f5a96", "#5a9e85", "#c8702a", "#c62020"
roc_os = [
    ([0, .003, .195, .2, 1], [0, .752, .752, 1, 1], C1),
    ([0, .005, .102, .102, .195, .2, .577, .773, 1], [0, .5, .5, .666, .666, .834, .834, 1, 1], C2),
    ([0, .003, .007, .01, .022, .086, .086, .099, .099, .148, .148, .195, .2, .25, .27, .371, .493, .58, .773, 1],
     [0, .086, .249, .335, .418, .418, .5, .5, .583, .583, .666, .666, .749, .749, .834, .834, .917, .917, 1, 1], C3),
    ([0, 0, .047, .047, .089, .089, .245, .438, .508, .522, .815, 1, 1], [0, .659, .659, .82, .82, .852, .852, .884, .884, .93, .962, .962, 1], C4),
    ([0, 0, .102, .102, .245, .438, .497, .815, 1, 1], [0, .659, .659, .852, .852, .884, .932, .962, .962, 1], "#c8702a"),
]
roc_pfs = [
    ([0, .003, .119, .119, .16, .16, .177, .177, .185, .185, .376, .376, 1], [0, .445, .445, .557, .557, .667, .667, .778, .778, .889, .889, 1, 1], C1),
    ([0, .003, .007, .02, .031, .041, .114, .114, .157, .161, .172, .185, .248, .26, .343, .346, .359, .439, .641, 1],
     [0, .13, .267, .267, .332, .4, .4, .466, .466, .533, .597, .667, .667, .802, .802, .867, .934, .934, 1, 1], C2),
    ([0, .007, .017, .028, .041, .053, .066, .089, .144, .152, .172, .232, .243, .338, .359, .434, .632, .69, .818, 1],
     [0, .197, .197, .332, .361, .4, .434, .5, .5, .535, .631, .698, .732, .732, .831, .831, .932, .932, 1, 1], C3),
    ([0, 0, .073, .073, .103, .103, .123, .123, .276, .276, .401, .674, .881, .983, 1], [0, .438, .438, .491, .491, .624, .624, .677, .677, .758, .758, .838, .966, .966, 1], C4),
    ([0, 0, .036, .141, .141, .276, .276, .401, .724, .906, .955, 1], [0, .41, .438, .438, .677, .677, .758, .758, .838, .966, .966, 1], "#c8702a"),
]
auc_os = ["AUC at 1 year: 0.949", "AUC at 2 years: 0.837", "AUC at 3 years: 0.839", "AUC at 4 years: 0.894", "AUC at 5 years: 0.888"]
auc_pfs = ["AUC at 1 year: 0.886", "AUC at 2 years: 0.836", "AUC at 3 years: 0.801", "AUC at 4 years: 0.77", "AUC at 5 years: 0.766"]

def roc(l, r, t, b, x0, x1, y1, y0, curves, aucs, lx0, lx1, tx, lys, sx, sy, xtitle_x, xtitle_y):
    u = x1 - x0
    v = y0 - y1
    tv = [0, .2, .4, .6, .8, 1]
    tt = ["0.0", "0.2", "0.4", "0.6", "0.8", "1.0"]
    xa, ya = AX(l, r, t, b, [(l - x0) / u, (r - x0) / u], [(y0 - b) / v, (y0 - t) / v],
                dict(tickvals=tv, ticktext=tt, mirror=True, linecolor="#444", ticklen=7, tickfont=dict(size=19, color="#222", family=FONT)),
                dict(tickvals=tv, ticktext=tt, mirror=True, linecolor="#444", ticklen=7, ticklabelstandoff=0, tickangle=-90, tickfont=dict(size=19, color="#222", family=FONT)))
    add(go.Scatter(x=[-.05, 1.05], y=[-.05, 1.05], mode="lines", line=dict(color="#111", width=1.5, dash="dash"), xaxis=xa, yaxis=ya))
    for cx, cy, col in curves:
        add(go.Scatter(x=cx, y=cy, mode="lines", line=dict(color=col, width=2.2), xaxis=xa, yaxis=ya))
    for (cx_, cy_, col), s, y in zip(curves, aucs, lys):
        col2 = C5 if s.startswith("AUC at 5") else col
        L(lx0, y, lx1, y, col2, 3)
        T(tx, y, s, 19, "#222", anchor="left")
    T(xtitle_x, xtitle_y, "1−Specificity", 19, "#222")
    T(sx, sy, "Sensitivity", 19, "#222", angle=-90)

roc(109, 549, 2465, 2835, 125.6, 532, 2479.3, 2821, roc_os, auc_os, 297, 333, 349.5, [2717.7, 2741.7, 2765, 2788, 2811.7], 60, 2650, 329, 2877)
roc(1123, 1569, 2466.7, 2840, 1140.4, 1551.8, 2480.7, 2826.7, roc_pfs, auc_pfs, 1313, 1349.5, 1367, [2722.7, 2746, 2770, 2793, 2817], 1075, 2653, 1346, 2882)

CB = "#2f5fb0"
cal_os = [
    ("1-year-OS", CB, [.98, .99, .995], [.985, .99, 1.0]),
    ("2-year-OS", C1, [.877, .96, .993], [.886, .965, 1.0]),
    ("3-year-OS", C2, [.79, .92, .975, .993], [.808, .925, .97, 1.0]),
    ("4-year-OS", C3, [.636, .88, .96, .99], [.556, .89, .96, 1.0]),
    ("5-year-OS", C4, [.917, .94, .97, .993], [.932, .922, .965, 1.0]),
]
cross_os_x = [.636, .79, .877, .917, .96, .975, .985, .99, .995]
cross_os_y = [.614, .841, .905, .92, .955, .98, .97, .985, .99]
rug_os = [.057, .083, .17, .18, .257, .274, .334, .352, .386, .438, .464, .49, .516, .534, .551, .577, .612, .638, .655, .672, .69, .707, .724, .742, .759, .776, .794, .811, .828, .846, .863, .88, .89, .9, .91, .92, .93, .94, .95, .96, .97, .98, .984]
cal_pfs = [
    ("1-year-PFS", CB, [.955, .975, .985], [.89, .95, 1.0]),
    ("2-year-PFS", C1, [.804, .955, .985], [.802, .89, .985]),
    ("3-year-PFS", C2, [.659, .916, .965, .99], [.636, .847, .905, 1.0]),
    ("4-year-PFS", C3, [.93, .97, .99], [.93, .965, 1.0]),
    ("5-year-PFS", C4, [.558, .804, .879, .887, .955, .985], [.636, .802, .847, .873, .96, 1.0]),
]
cross_pfs_x = [.558, .659, .804, .879, .916, .887, .95, .955, .96, .965, .975, .98, .985]
cross_pfs_y = [.677, .663, .826, .847, .847, .886, .975, .92, .89, .9, .95, .96, .985]
rug_pfs = [.084, .1, .195, .21, .254, .28, .314, .357, .4, .442, .459, .476, .51, .544, .596, .63, .647, .664, .68, .7, .72, .74, .76, .78, .8, .82, .84, .86, .88, .9, .92, .94, .96, .98]
err_pfs = [.95, .96, .98, .99]

def calib(l, r, t, b, x0, x1, y1, y0, series, cx, cy, rug, err, lx0, lx1, tx, lys, xt, xty, ytx, yty, labels, xsoff):
    u = x1 - x0
    v = y0 - y1
    tv = [0, .2, .4, .6, .8, 1]
    tt = ["0.0", "0.2", "0.4", "0.6", "0.8", "1.0"]
    top = (y0 - t) / v
    xa, ya = AX(l, r, t, b, [(l - x0) / u, (r - x0) / u], [(y0 - b) / v, top],
                dict(tickvals=tv, ticktext=tt, ticklen=7, ticklabelstandoff=xsoff, tickfont=dict(size=16, color="#222", family=FONT)),
                dict(tickvals=tv, ticktext=tt, ticklen=7, ticklabelstandoff=0, tickangle=-90, tickfont=dict(size=16, color="#222", family=FONT)))
    add(go.Scatter(x=[-.04, 1.04], y=[-.04, 1.04], mode="lines", line=dict(color="#111", width=1, dash="dot"), xaxis=xa, yaxis=ya))
    add(go.Scatter(x=rug, y=[top - .003] * len(rug), mode="markers", marker=dict(symbol="line-ns", size=4, line=dict(color="#999", width=1)), xaxis=xa, yaxis=ya))
    for e in err:
        add(go.Scatter(x=[e, e], y=[.975, top], mode="lines", line=dict(color="#555", width=1), xaxis=xa, yaxis=ya))
    for (name, col, px1, py1), y in zip(series, lys):
        add(go.Scatter(x=px1, y=py1, mode="lines+markers", line=dict(color=col, width=1.2), marker=dict(size=8, color=col), xaxis=xa, yaxis=ya))
        L(lx0, y, lx1, y, col, 3)
        T(tx, y, name, 18, "#222", anchor="left")
    add(go.Scatter(x=cx, y=cy, mode="markers", marker=dict(symbol="x-thin", size=8, line=dict(color="#3333ee", width=1)), xaxis=xa, yaxis=ya))
    T(xt, xty, labels[0], 18, "#222")
    T(ytx, yty, labels[1], 18, "#222", angle=-90)

calib(624.6, 1047.8, 2464, 2835.7, 639.6, 1033.5, 2478.3, 2822, cal_os, cross_os_x, cross_os_y, rug_os, [.995], 640, 674, 689,
      [2486, 2507.7, 2529, 2550, 2571.7], 837.5, 2877.7, 575, 2650.7, ("Nomogram−OS (%)", "Observed OS (%)"), -7)
calib(1644.5, 2076.4, 2462.7, 2839.3, 1660, 2059.3, 2476, 2825.7, cal_pfs, cross_pfs_x, cross_pfs_y, rug_pfs, err_pfs, 1660, 1694, 1710,
      [2484, 2506, 2528, 2550, 2572], 1862.5, 2888, 1593, 2651, ("Nomogram−PFS (%)", "Observed PFS (%)"), 0)
T(37, 2460, "(f)", 42, "#111", bold=True)

fig = go.Figure(data=traces)
fig.update_layout(width=W, height=H, margin=dict(l=0, r=0, t=0, b=0, autoexpand=False), paper_bgcolor="white", plot_bgcolor="rgba(0,0,0,0)",
                  showlegend=False, annotations=annots, shapes=shapes, font=dict(family=FONT), barmode="overlay", **axes_layout)
fig.write_html("out.html", post_script="document.body.style.margin='0';", config=dict(displayModeBar=False))
